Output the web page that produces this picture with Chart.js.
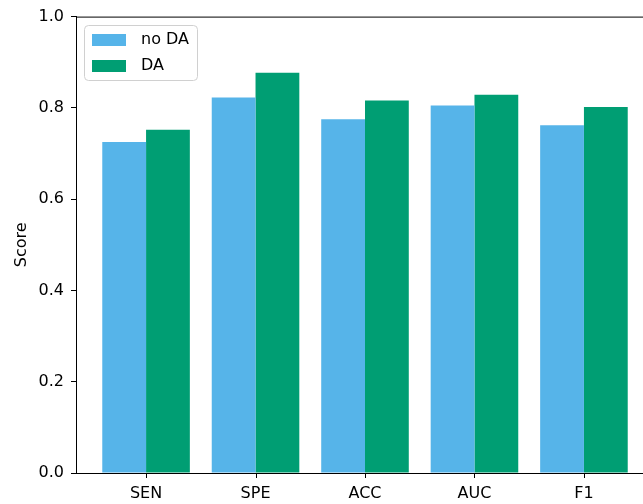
<!DOCTYPE html>
<html>
<head>
<meta charset="utf-8">
<title>Score with and without DA</title>
<script src="https://cdn.jsdelivr.net/npm/chart.js@4/dist/chart.umd.min.js"></script>
<style>
  html, body { margin: 0; padding: 0; background: #fff; overflow: hidden; }
  #wrap { width: 660px; height: 504px; }
</style>
</head>
<body>
<div id="wrap"><canvas id="chart" width="660" height="504"></canvas></div>
<script>
// Metrics on the x axis
const categories = ['SEN', 'SPE', 'ACC', 'AUC', 'F1'];
// Scores without data augmentation
const noDA = [0.725, 0.823, 0.775, 0.805, 0.762];
// Scores with data augmentation
const withDA = [0.752, 0.877, 0.816, 0.829, 0.802];
// Y axis tick values
const yTicks = [0.0, 0.2, 0.4, 0.6, 0.8, 1.0];

const FONT = { family: '"DejaVu Sans", sans-serif', size: 16 };

const toPoints = arr => arr.map((v, i) => ({ x: i, y: v }));

// Top spine, x tick marks and inset legend
const frame = {
  id: 'frame',
  afterDraw(chart) {
    const { ctx, chartArea, scales } = chart;
    ctx.save();
    ctx.strokeStyle = '#000';
    ctx.lineWidth = 1;
    ctx.beginPath();
    ctx.moveTo(chartArea.left, chartArea.top + 0.5);
    ctx.lineTo(chartArea.right, chartArea.top + 0.5);
    scales.x.ticks.forEach(t => {
      const px = Math.round(scales.x.getPixelForValue(t.value)) + 0.5;
      ctx.moveTo(px, chartArea.bottom);
      ctx.lineTo(px, chartArea.bottom + 5);
    });
    ctx.stroke();

    // legend box
    const bx = 84.5, by = 25.5, bw = 113, bh = 55, r = 4;
    ctx.beginPath();
    ctx.moveTo(bx + r, by);
    ctx.lineTo(bx + bw - r, by);
    ctx.quadraticCurveTo(bx + bw, by, bx + bw, by + r);
    ctx.lineTo(bx + bw, by + bh - r);
    ctx.quadraticCurveTo(bx + bw, by + bh, bx + bw - r, by + bh);
    ctx.lineTo(bx + r, by + bh);
    ctx.quadraticCurveTo(bx, by + bh, bx, by + bh - r);
    ctx.lineTo(bx, by + r);
    ctx.quadraticCurveTo(bx, by, bx + r, by);
    ctx.closePath();
    ctx.fillStyle = 'rgba(255,255,255,0.8)';
    ctx.fill();
    ctx.strokeStyle = '#d0d0d0';
    ctx.stroke();

    ctx.font = FONT.size + 'px ' + FONT.family;
    ctx.textBaseline = 'middle';
    ctx.textAlign = 'left';
    const rows = [40, 66];
    chart.data.datasets.forEach((ds, i) => {
      ctx.fillStyle = ds.backgroundColor;
      ctx.fillRect(92, rows[i] - 6, 34, 12);
      ctx.fillStyle = '#000';
      ctx.fillText(ds.label, 141, rows[i]);
    });
    ctx.restore();
  }
};

new Chart(document.getElementById('chart'), {
  type: 'bar',
  data: {
    datasets: [
      { label: 'no DA', data: toPoints(noDA), backgroundColor: '#56B4E9', borderWidth: 0 },
      { label: 'DA', data: toPoints(withDA), backgroundColor: '#009E73', borderWidth: 0 }
    ]
  },
  options: {
    responsive: false,
    animation: false,
    devicePixelRatio: 1,
    categoryPercentage: 0.8,
    barPercentage: 1.0,
    layout: { padding: { top: 16, right: 6, left: 0, bottom: 0 } },
    plugins: { legend: { display: false }, tooltip: { enabled: false } },
    scales: {
      x: {
        type: 'linear',
        min: -0.64,
        max: 4.64,
        offset: false,
        afterBuildTicks: s => { s.ticks = categories.map((_, i) => ({ value: i })); },
        afterFit: s => { s.height = 31; },
        ticks: {
          autoSkip: false,
          maxRotation: 0,
          padding: 11,
          color: '#000',
          font: FONT,
          callback: v => categories[v] ?? ''
        },
        grid: { offset: false, display: true, drawOnChartArea: false, drawTicks: false },
        border: { display: true, color: '#000', width: 1 }
      },
      y: {
        min: 0,
        max: 1,
        afterBuildTicks: s => { s.ticks = yTicks.map(v => ({ value: v })); },
        afterFit: s => { s.width = 76; },
        ticks: {
          padding: 7,
          color: '#000',
          font: FONT,
          callback: v => Number(v).toFixed(1)
        },
        grid: { drawOnChartArea: false, drawTicks: true, tickLength: 5, tickColor: '#000' },
        border: { display: true, color: '#000', width: 1 },
        title: { display: true, text: 'Score', color: '#000', font: FONT, padding: { top: 12, bottom: 0 } }
      }
    }
  },
  plugins: [frame]
});
</script>
</body>
</html>
